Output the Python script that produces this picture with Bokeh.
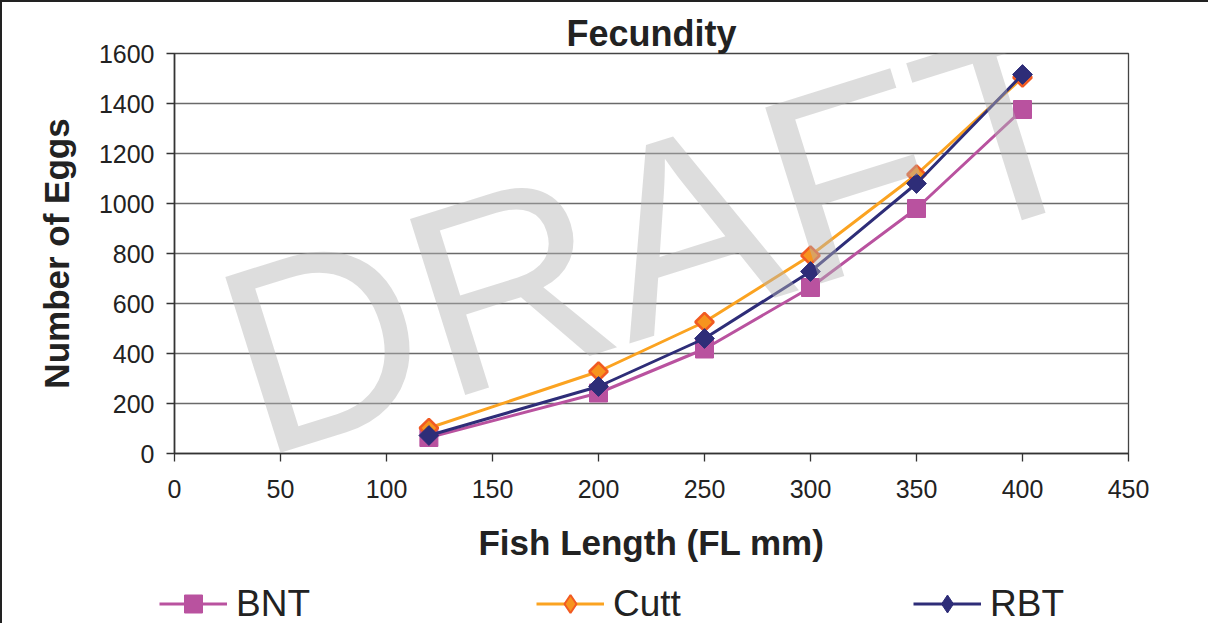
from bokeh.plotting import figure
from bokeh.layouts import column
from bokeh.models import Range1d, FixedTicker, Legend, LegendItem, Label
from bokeh.embed import file_html
from bokeh.resources import INLINE

# ---- data ----
lengths = [120, 200, 250, 300, 350, 400]
bnt = [64, 242, 418, 664, 980, 1376]
cutt = [102, 328, 526, 792, 1116, 1504]
rbt = [72, 268, 460, 728, 1080, 1516]
x_ticks = [0, 50, 100, 150, 200, 250, 300, 350, 400, 450]
y_ticks = [0, 200, 400, 600, 800, 1000, 1200, 1400, 1600]
series_names = ["BNT", "Cutt", "RBT"]
title_text = "Fecundity"
x_label = "Fish Length (FL mm)"
y_label = "Number of Eggs"
watermark = "DRAFT"

FONT = "Liberation Sans"
C_BNT = "#B9529F"
C_CUTT_LINE = "#FBA321"
C_CUTT_FILL = "#F7941E"
C_CUTT_EDGE = "#F15A22"
C_RBT = "#2E2D78"

p = figure(width=1208, height=575, output_backend="svg", toolbar_location=None,
           x_range=Range1d(0, 450), y_range=Range1d(0, 1600),
           min_border_left=172, min_border_right=82, min_border_top=51, min_border_bottom=124,
           title=title_text)
p.styles = {"border-top": "2px solid #222", "border-left": "2px solid #222"}

p.title.text_font = FONT
p.title.text_font_size = "36px"
p.title.text_font_style = "bold"
p.title.text_color = "#222222"
p.title.align = "center"
p.title.standoff = 0
p.title.offset = 0

p.background_fill_color = "white"
p.border_fill_color = "white"
p.outline_line_color = "#444444"
p.outline_line_width = 1.3

p.xgrid.grid_line_color = None
p.ygrid.grid_line_color = "#6a6a6a"
p.ygrid.grid_line_width = 1.3

for ax in (p.xaxis, p.yaxis):
    ax.axis_line_color = "#333333"
    ax.axis_line_width = 1.6
    ax.major_tick_line_color = "#333333"
    ax.major_tick_line_width = 1.3
    ax.major_tick_out = 8
    ax.major_tick_in = 0
    ax.minor_tick_line_color = None
    ax.major_label_text_font = FONT
    ax.major_label_text_font_size = "25px"
    ax.major_label_text_color = "#222222"
    ax.axis_label_text_font = FONT
    ax.axis_label_text_font_size = "35px"
    ax.axis_label_text_font_style = "bold"
    ax.axis_label_text_color = "#222222"

p.xaxis.ticker = FixedTicker(ticks=x_ticks)
p.yaxis.ticker = FixedTicker(ticks=y_ticks)
p.xaxis.axis_label = x_label
p.yaxis.axis_label = y_label
p.xaxis.major_label_standoff = 18
p.xaxis.axis_label_standoff = 22
p.yaxis.major_label_standoff = 12
p.yaxis.axis_label_standoff = 20

# ---- series ----
p.line(lengths, bnt, line_color=C_BNT, line_width=3)
p.scatter(lengths, bnt, marker="square", size=18, fill_color=C_BNT,
          line_color=C_BNT, line_width=1)

p.line(lengths, cutt, line_color=C_CUTT_LINE, line_width=3)
p.scatter(lengths, cutt, marker="square", angle=0.7854, size=13,
          fill_color=C_CUTT_FILL, line_color=C_CUTT_EDGE, line_width=2.5)

p.line(lengths, rbt, line_color=C_RBT, line_width=3)
p.scatter(lengths, rbt, marker="square", angle=0.7854, size=14,
          fill_color=C_RBT, line_color=C_RBT, line_width=1)

# ---- watermark ----
wm = Label(x=228, y=866, text=watermark, angle=0.304,
           text_font=FONT, text_font_size="268px", text_color="#b4b4b4",
           text_alpha=0.45, text_align="center", text_baseline="middle",
           level="overlay")
p.add_layout(wm)

# ---- legend strip (separate figure; its series lie outside its view) ----
p2 = figure(width=1208, height=48, output_backend="svg", toolbar_location=None,
            x_range=Range1d(0, 450), y_range=Range1d(-200, -100),
            min_border_left=0, min_border_right=0, min_border_top=0, min_border_bottom=0)
p2.styles = {"border-left": "2px solid #222"}
p2.axis.visible = False
p2.grid.visible = False
p2.outline_line_color = None

free_frame = "frame_align" in p2.properties()
if free_frame:
    p2.frame_align = False

lb = p2.line(lengths, bnt, line_color=C_BNT, line_width=3)
mb = p2.scatter(lengths, bnt, marker="square", size=18, fill_color=C_BNT, line_color=C_BNT)
lc = p2.line(lengths, cutt, line_color=C_CUTT_LINE, line_width=3)
mc = p2.scatter(lengths, cutt, marker="diamond", size=18, fill_color=C_CUTT_FILL,
                line_color=C_CUTT_EDGE, line_width=2)
lr = p2.line(lengths, rbt, line_color=C_RBT, line_width=3)
mr = p2.scatter(lengths, rbt, marker="diamond", size=18, fill_color=C_RBT, line_color=C_RBT)

legend = Legend(items=[
    LegendItem(label=series_names[0], renderers=[lb, mb]),
    LegendItem(label=series_names[1], renderers=[lc, mc]),
    LegendItem(label=series_names[2], renderers=[lr, mr]),
], orientation="horizontal", location=((157 if free_frame else 0), -3))
legend.padding = 0
legend.margin = 0
legend.spacing = 200 if free_frame else 193
legend.label_width = 100
legend.glyph_width = 68
legend.glyph_height = 45
legend.label_standoff = 9
legend.label_text_font = FONT
legend.label_text_font_size = "37px"
legend.label_text_color = "#222222"
legend.border_line_alpha = 0
legend.background_fill_alpha = 0
p2.add_layout(legend, "center")

layout = column(p, p2, spacing=0)
open("out.html", "w").write(file_html(layout, INLINE))
